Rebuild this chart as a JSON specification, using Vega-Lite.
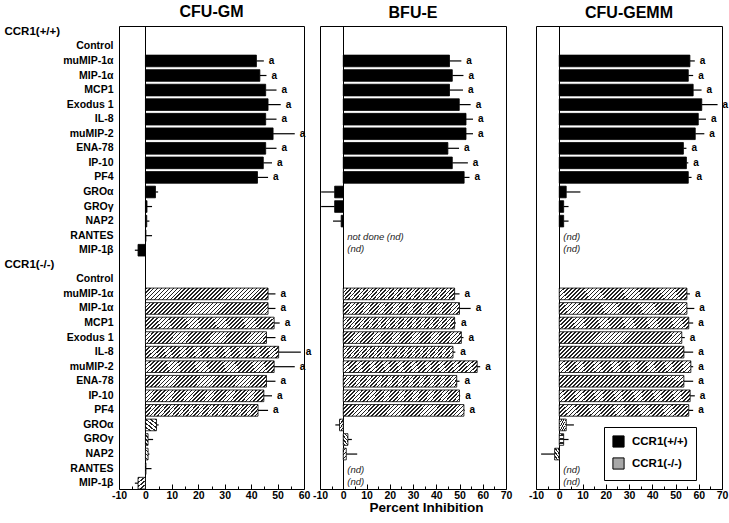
{
  "$schema": "https://vega.github.io/schema/vega-lite/v6.json",
  "padding": {"left": 3, "top": 3, "right": 5, "bottom": 0},
  "bounds": "flush",
  "spacing": 16,
  "config": {
    "font": "Liberation Sans",
    "view": {"stroke": "black", "strokeWidth": 1},
    "title": {"font": "Liberation Sans", "fontSize": 16, "fontWeight": "bold", "color": "black", "offset": 5, "anchor": "middle"},
    "axisX": {"domain": false, "tickColor": "black", "tickWidth": 1, "labelFont": "Liberation Sans", "labelFontWeight": "bold", "labelFontSize": 10.5, "labelColor": "black", "labelFlush": false, "labelOverlap": false, "grid": false, "gridColor": "black", "gridWidth": 1}
  },
  "datasets": {
    "bars": [
      {"assay": "CFU-GM", "geno": "CCR1(+/+)", "row": "CCR1(+/+)|muMIP-1α", "value": 42.0, "errEnd": 44.8, "sig": "a"},
      {"assay": "CFU-GM", "geno": "CCR1(+/+)", "row": "CCR1(+/+)|MIP-1α", "value": 43.3, "errEnd": 45.8, "sig": "a"},
      {"assay": "CFU-GM", "geno": "CCR1(+/+)", "row": "CCR1(+/+)|MCP1", "value": 45.5, "errEnd": 49.6, "sig": "a"},
      {"assay": "CFU-GM", "geno": "CCR1(+/+)", "row": "CCR1(+/+)|Exodus 1", "value": 46.4, "errEnd": 51.2, "sig": "a"},
      {"assay": "CFU-GM", "geno": "CCR1(+/+)", "row": "CCR1(+/+)|IL-8", "value": 45.5, "errEnd": 49.6, "sig": "a"},
      {"assay": "CFU-GM", "geno": "CCR1(+/+)", "row": "CCR1(+/+)|muMIP-2", "value": 48.3, "errEnd": 56.5, "sig": "a"},
      {"assay": "CFU-GM", "geno": "CCR1(+/+)", "row": "CCR1(+/+)|ENA-78", "value": 45.5, "errEnd": 49.6, "sig": "a"},
      {"assay": "CFU-GM", "geno": "CCR1(+/+)", "row": "CCR1(+/+)|IP-10", "value": 44.6, "errEnd": 47.9, "sig": "a"},
      {"assay": "CFU-GM", "geno": "CCR1(+/+)", "row": "CCR1(+/+)|PF4", "value": 42.4, "errEnd": 46.4, "sig": "a"},
      {"assay": "CFU-GM", "geno": "CCR1(+/+)", "row": "CCR1(+/+)|GROα", "value": 3.8, "errEnd": 4.8, "sig": ""},
      {"assay": "CFU-GM", "geno": "CCR1(+/+)", "row": "CCR1(+/+)|GROγ", "value": 0.6, "errEnd": 2.5, "sig": ""},
      {"assay": "CFU-GM", "geno": "CCR1(+/+)", "row": "CCR1(+/+)|NAP2", "value": 0.5, "errEnd": 1.5, "sig": ""},
      {"assay": "CFU-GM", "geno": "CCR1(+/+)", "row": "CCR1(+/+)|RANTES", "value": 0.2, "errEnd": 2.5, "sig": ""},
      {"assay": "CFU-GM", "geno": "CCR1(+/+)", "row": "CCR1(+/+)|MIP-1β", "value": -2.8, "errEnd": -4.0, "sig": ""},
      {"assay": "CFU-GM", "geno": "CCR1(-/-)", "row": "CCR1(-/-)|muMIP-1α", "value": 46.4, "errEnd": 49.2, "sig": "a"},
      {"assay": "CFU-GM", "geno": "CCR1(-/-)", "row": "CCR1(-/-)|MIP-1α", "value": 46.4, "errEnd": 49.2, "sig": "a"},
      {"assay": "CFU-GM", "geno": "CCR1(-/-)", "row": "CCR1(-/-)|MCP1", "value": 48.7, "errEnd": 50.8, "sig": "a"},
      {"assay": "CFU-GM", "geno": "CCR1(-/-)", "row": "CCR1(-/-)|Exodus 1", "value": 45.8, "errEnd": 49.2, "sig": "a"},
      {"assay": "CFU-GM", "geno": "CCR1(-/-)", "row": "CCR1(-/-)|IL-8", "value": 50.4, "errEnd": 58.8, "sig": "a"},
      {"assay": "CFU-GM", "geno": "CCR1(-/-)", "row": "CCR1(-/-)|muMIP-2", "value": 48.7, "errEnd": 56.5, "sig": "a"},
      {"assay": "CFU-GM", "geno": "CCR1(-/-)", "row": "CCR1(-/-)|ENA-78", "value": 45.8, "errEnd": 49.2, "sig": "a"},
      {"assay": "CFU-GM", "geno": "CCR1(-/-)", "row": "CCR1(-/-)|IP-10", "value": 44.8, "errEnd": 47.9, "sig": "a"},
      {"assay": "CFU-GM", "geno": "CCR1(-/-)", "row": "CCR1(-/-)|PF4", "value": 42.6, "errEnd": 46.4, "sig": "a"},
      {"assay": "CFU-GM", "geno": "CCR1(-/-)", "row": "CCR1(-/-)|GROα", "value": 4.2, "errEnd": 5.0, "sig": ""},
      {"assay": "CFU-GM", "geno": "CCR1(-/-)", "row": "CCR1(-/-)|GROγ", "value": 1.0, "errEnd": 2.9, "sig": ""},
      {"assay": "CFU-GM", "geno": "CCR1(-/-)", "row": "CCR1(-/-)|NAP2", "value": 1.0, "errEnd": 1.5, "sig": ""},
      {"assay": "CFU-GM", "geno": "CCR1(-/-)", "row": "CCR1(-/-)|RANTES", "value": 0.2, "errEnd": 2.3, "sig": ""},
      {"assay": "CFU-GM", "geno": "CCR1(-/-)", "row": "CCR1(-/-)|MIP-1β", "value": -2.8, "errEnd": -4.0, "sig": ""},
      {"assay": "BFU-E", "geno": "CCR1(+/+)", "row": "CCR1(+/+)|muMIP-1α", "value": 45.7, "errEnd": 50.8, "sig": "a"},
      {"assay": "BFU-E", "geno": "CCR1(+/+)", "row": "CCR1(+/+)|MIP-1α", "value": 46.9, "errEnd": 51.7, "sig": "a"},
      {"assay": "BFU-E", "geno": "CCR1(+/+)", "row": "CCR1(+/+)|MCP1", "value": 45.7, "errEnd": 51.5, "sig": "a"},
      {"assay": "BFU-E", "geno": "CCR1(+/+)", "row": "CCR1(+/+)|Exodus 1", "value": 49.9, "errEnd": 54.8, "sig": "a"},
      {"assay": "BFU-E", "geno": "CCR1(+/+)", "row": "CCR1(+/+)|IL-8", "value": 52.8, "errEnd": 55.8, "sig": "a"},
      {"assay": "BFU-E", "geno": "CCR1(+/+)", "row": "CCR1(+/+)|muMIP-2", "value": 52.8, "errEnd": 55.8, "sig": "a"},
      {"assay": "BFU-E", "geno": "CCR1(+/+)", "row": "CCR1(+/+)|ENA-78", "value": 45.0, "errEnd": 49.8, "sig": "a"},
      {"assay": "BFU-E", "geno": "CCR1(+/+)", "row": "CCR1(+/+)|IP-10", "value": 46.9, "errEnd": 53.6, "sig": "a"},
      {"assay": "BFU-E", "geno": "CCR1(+/+)", "row": "CCR1(+/+)|PF4", "value": 52.0, "errEnd": 54.3, "sig": "a"},
      {"assay": "BFU-E", "geno": "CCR1(+/+)", "row": "CCR1(+/+)|GROα", "value": -3.7, "errEnd": -9.5, "sig": ""},
      {"assay": "BFU-E", "geno": "CCR1(+/+)", "row": "CCR1(+/+)|GROγ", "value": -3.7, "errEnd": -9.5, "sig": ""},
      {"assay": "BFU-E", "geno": "CCR1(+/+)", "row": "CCR1(+/+)|NAP2", "value": -0.9, "errEnd": -4.4, "sig": ""},
      {"assay": "BFU-E", "geno": "CCR1(-/-)", "row": "CCR1(-/-)|muMIP-1α", "value": 47.9, "errEnd": 50.0, "sig": "a"},
      {"assay": "BFU-E", "geno": "CCR1(-/-)", "row": "CCR1(-/-)|MIP-1α", "value": 50.0, "errEnd": 54.8, "sig": "a"},
      {"assay": "BFU-E", "geno": "CCR1(-/-)", "row": "CCR1(-/-)|MCP1", "value": 47.9, "errEnd": 48.5, "sig": "a"},
      {"assay": "BFU-E", "geno": "CCR1(-/-)", "row": "CCR1(-/-)|Exodus 1", "value": 50.8, "errEnd": 51.7, "sig": "a"},
      {"assay": "BFU-E", "geno": "CCR1(-/-)", "row": "CCR1(-/-)|IL-8", "value": 47.2, "errEnd": 48.2, "sig": "a"},
      {"assay": "BFU-E", "geno": "CCR1(-/-)", "row": "CCR1(-/-)|muMIP-2", "value": 57.6, "errEnd": 58.9, "sig": "a"},
      {"assay": "BFU-E", "geno": "CCR1(-/-)", "row": "CCR1(-/-)|ENA-78", "value": 48.8, "errEnd": 50.0, "sig": "a"},
      {"assay": "BFU-E", "geno": "CCR1(-/-)", "row": "CCR1(-/-)|IP-10", "value": 50.0, "errEnd": 50.3, "sig": "a"},
      {"assay": "BFU-E", "geno": "CCR1(-/-)", "row": "CCR1(-/-)|PF4", "value": 51.9, "errEnd": 52.2, "sig": "a"},
      {"assay": "BFU-E", "geno": "CCR1(-/-)", "row": "CCR1(-/-)|GROα", "value": -1.6, "errEnd": -3.4, "sig": ""},
      {"assay": "BFU-E", "geno": "CCR1(-/-)", "row": "CCR1(-/-)|GROγ", "value": 2.0, "errEnd": 3.7, "sig": ""},
      {"assay": "BFU-E", "geno": "CCR1(-/-)", "row": "CCR1(-/-)|NAP2", "value": 1.3, "errEnd": 6.0, "sig": ""},
      {"assay": "CFU-GEMM", "geno": "CCR1(+/+)", "row": "CCR1(+/+)|muMIP-1α", "value": 56.2, "errEnd": 58.3, "sig": "a"},
      {"assay": "CFU-GEMM", "geno": "CCR1(+/+)", "row": "CCR1(+/+)|MIP-1α", "value": 55.5, "errEnd": 57.6, "sig": "a"},
      {"assay": "CFU-GEMM", "geno": "CCR1(+/+)", "row": "CCR1(+/+)|MCP1", "value": 57.6, "errEnd": 61.2, "sig": "a"},
      {"assay": "CFU-GEMM", "geno": "CCR1(+/+)", "row": "CCR1(+/+)|Exodus 1", "value": 61.3, "errEnd": 68.1, "sig": "a"},
      {"assay": "CFU-GEMM", "geno": "CCR1(+/+)", "row": "CCR1(+/+)|IL-8", "value": 59.8, "errEnd": 63.1, "sig": "a"},
      {"assay": "CFU-GEMM", "geno": "CCR1(+/+)", "row": "CCR1(+/+)|muMIP-2", "value": 58.5, "errEnd": 62.4, "sig": "a"},
      {"assay": "CFU-GEMM", "geno": "CCR1(+/+)", "row": "CCR1(+/+)|ENA-78", "value": 53.4, "errEnd": 54.7, "sig": "a"},
      {"assay": "CFU-GEMM", "geno": "CCR1(+/+)", "row": "CCR1(+/+)|IP-10", "value": 54.7, "errEnd": 55.5, "sig": "a"},
      {"assay": "CFU-GEMM", "geno": "CCR1(+/+)", "row": "CCR1(+/+)|PF4", "value": 55.5, "errEnd": 56.9, "sig": "a"},
      {"assay": "CFU-GEMM", "geno": "CCR1(+/+)", "row": "CCR1(+/+)|GROα", "value": 3.0, "errEnd": 9.1, "sig": ""},
      {"assay": "CFU-GEMM", "geno": "CCR1(+/+)", "row": "CCR1(+/+)|GROγ", "value": 1.9, "errEnd": 4.0, "sig": ""},
      {"assay": "CFU-GEMM", "geno": "CCR1(+/+)", "row": "CCR1(+/+)|NAP2", "value": 1.9, "errEnd": 4.0, "sig": ""},
      {"assay": "CFU-GEMM", "geno": "CCR1(-/-)", "row": "CCR1(-/-)|muMIP-1α", "value": 54.9, "errEnd": 56.2, "sig": "a"},
      {"assay": "CFU-GEMM", "geno": "CCR1(-/-)", "row": "CCR1(-/-)|MIP-1α", "value": 54.9, "errEnd": 58.1, "sig": "a"},
      {"assay": "CFU-GEMM", "geno": "CCR1(-/-)", "row": "CCR1(-/-)|MCP1", "value": 55.7, "errEnd": 57.6, "sig": "a"},
      {"assay": "CFU-GEMM", "geno": "CCR1(-/-)", "row": "CCR1(-/-)|Exodus 1", "value": 52.7, "errEnd": 54.0, "sig": "a"},
      {"assay": "CFU-GEMM", "geno": "CCR1(-/-)", "row": "CCR1(-/-)|IL-8", "value": 53.6, "errEnd": 57.6, "sig": "a"},
      {"assay": "CFU-GEMM", "geno": "CCR1(-/-)", "row": "CCR1(-/-)|muMIP-2", "value": 56.6, "errEnd": 57.6, "sig": "a"},
      {"assay": "CFU-GEMM", "geno": "CCR1(-/-)", "row": "CCR1(-/-)|ENA-78", "value": 53.6, "errEnd": 57.6, "sig": "a"},
      {"assay": "CFU-GEMM", "geno": "CCR1(-/-)", "row": "CCR1(-/-)|IP-10", "value": 56.3, "errEnd": 58.3, "sig": "a"},
      {"assay": "CFU-GEMM", "geno": "CCR1(-/-)", "row": "CCR1(-/-)|PF4", "value": 55.7, "errEnd": 57.6, "sig": "a"},
      {"assay": "CFU-GEMM", "geno": "CCR1(-/-)", "row": "CCR1(-/-)|GROα", "value": 3.0, "errEnd": 6.3, "sig": ""},
      {"assay": "CFU-GEMM", "geno": "CCR1(-/-)", "row": "CCR1(-/-)|GROγ", "value": 1.9, "errEnd": 4.0, "sig": ""},
      {"assay": "CFU-GEMM", "geno": "CCR1(-/-)", "row": "CCR1(-/-)|NAP2", "value": -2.0, "errEnd": -7.8, "sig": ""}
    ],
    "notes": [
      {"assay": "BFU-E", "row": "CCR1(+/+)|RANTES", "note": "not done (nd)"},
      {"assay": "BFU-E", "row": "CCR1(+/+)|MIP-1β", "note": "(nd)"},
      {"assay": "BFU-E", "row": "CCR1(-/-)|RANTES", "note": "(nd)"},
      {"assay": "BFU-E", "row": "CCR1(-/-)|MIP-1β", "note": "(nd)"},
      {"assay": "CFU-GEMM", "row": "CCR1(+/+)|RANTES", "note": "(nd)"},
      {"assay": "CFU-GEMM", "row": "CCR1(+/+)|MIP-1β", "note": "(nd)"},
      {"assay": "CFU-GEMM", "row": "CCR1(-/-)|RANTES", "note": "(nd)"},
      {"assay": "CFU-GEMM", "row": "CCR1(-/-)|MIP-1β", "note": "(nd)"}
    ]
  },
  "resolve": {"scale": {"x": "independent", "y": "independent"}},
  "hconcat": [
    {
      "title": "CFU-GM",
      "width": 185,
      "height": 463,
      "resolve": {"axis": {"x": "independent"}},
      "encoding": {
        "y": {
          "field": "row", "type": "nominal",
          "scale": {"domain": ["CCR1(+/+)", "CCR1(+/+)|Control", "CCR1(+/+)|muMIP-1α", "CCR1(+/+)|MIP-1α", "CCR1(+/+)|MCP1", "CCR1(+/+)|Exodus 1", "CCR1(+/+)|IL-8", "CCR1(+/+)|muMIP-2", "CCR1(+/+)|ENA-78", "CCR1(+/+)|IP-10", "CCR1(+/+)|PF4", "CCR1(+/+)|GROα", "CCR1(+/+)|GROγ", "CCR1(+/+)|NAP2", "CCR1(+/+)|RANTES", "CCR1(+/+)|MIP-1β", "CCR1(-/-)", "CCR1(-/-)|Control", "CCR1(-/-)|muMIP-1α", "CCR1(-/-)|MIP-1α", "CCR1(-/-)|MCP1", "CCR1(-/-)|Exodus 1", "CCR1(-/-)|IL-8", "CCR1(-/-)|muMIP-2", "CCR1(-/-)|ENA-78", "CCR1(-/-)|IP-10", "CCR1(-/-)|PF4", "CCR1(-/-)|GROα", "CCR1(-/-)|GROγ", "CCR1(-/-)|NAP2", "CCR1(-/-)|RANTES", "CCR1(-/-)|MIP-1β"], "paddingInner": 0.2, "paddingOuter": 0},
          "axis": {
            "title": null, "domain": false, "ticks": false, "grid": false,
            "labelExpr": "slice(datum.value, indexof(datum.value, '|') + 1)",
            "labelFont": "Liberation Sans", "labelFontWeight": "bold", "labelColor": "black",
            "labelFontSize": {"condition": {"test": "indexof(datum.value, '|') < 0", "value": 11.5}, "value": 10.5},
            "labelAlign": {"condition": {"test": "indexof(datum.value, '|') < 0", "value": "left"}, "value": "right"},
            "labelPadding": {"condition": {"test": "indexof(datum.value, '|') < 0", "value": 115}, "value": 6},
            "labelLimit": 0, "labelOverlap": false
          }
        }
      },
      "layer": [
        {
          "data": {"name": "bars"},
          "transform": [{"filter": "datum.assay == 'CFU-GM' && datum.geno == 'CCR1(+/+)'"}],
          "mark": {"type": "bar", "color": "black", "stroke": "black", "strokeWidth": 0.8},
          "encoding": {
            "x": {"field": "value", "type": "quantitative", "scale": {"domain": [-10, 60], "nice": false, "zero": false},
              "axis": {"orient": "bottom", "title": null, "values": [-5, 5, 15, 25, 35, 45, 55], "labels": false, "tickSize": -3, "grid": false}},
            "x2": {"datum": 0}
          }
        },
        {
          "data": {"name": "bars"},
          "transform": [{"filter": "datum.assay == 'CFU-GM' && datum.geno == 'CCR1(-/-)'"}],
          "mark": {"type": "bar", "stroke": "black", "strokeWidth": 0.8, "fill": {"gradient":"linear","x1":0,"y1":0,"x2":1.085,"y2":0.103,"stops":[{"offset":0,"color":"#fff"},{"offset":0,"color":"#222"},{"offset":0.0118,"color":"#222"},{"offset":0.0118,"color":"#fff"},{"offset":0.0294,"color":"#fff"},{"offset":0.0294,"color":"#222"},{"offset":0.0412,"color":"#222"},{"offset":0.0412,"color":"#fff"},{"offset":0.0588,"color":"#fff"},{"offset":0.0588,"color":"#222"},{"offset":0.0706,"color":"#222"},{"offset":0.0706,"color":"#fff"},{"offset":0.0882,"color":"#fff"},{"offset":0.0882,"color":"#222"},{"offset":0.1,"color":"#222"},{"offset":0.1,"color":"#fff"},{"offset":0.1176,"color":"#fff"},{"offset":0.1176,"color":"#222"},{"offset":0.1294,"color":"#222"},{"offset":0.1294,"color":"#fff"},{"offset":0.1471,"color":"#fff"},{"offset":0.1471,"color":"#222"},{"offset":0.1588,"color":"#222"},{"offset":0.1588,"color":"#fff"},{"offset":0.1765,"color":"#fff"},{"offset":0.1765,"color":"#222"},{"offset":0.1882,"color":"#222"},{"offset":0.1882,"color":"#fff"},{"offset":0.2059,"color":"#fff"},{"offset":0.2059,"color":"#222"},{"offset":0.2176,"color":"#222"},{"offset":0.2176,"color":"#fff"},{"offset":0.2353,"color":"#fff"},{"offset":0.2353,"color":"#222"},{"offset":0.2471,"color":"#222"},{"offset":0.2471,"color":"#fff"},{"offset":0.2647,"color":"#fff"},{"offset":0.2647,"color":"#222"},{"offset":0.2765,"color":"#222"},{"offset":0.2765,"color":"#fff"},{"offset":0.2941,"color":"#fff"},{"offset":0.2941,"color":"#222"},{"offset":0.3059,"color":"#222"},{"offset":0.3059,"color":"#fff"},{"offset":0.3235,"color":"#fff"},{"offset":0.3235,"color":"#222"},{"offset":0.3353,"color":"#222"},{"offset":0.3353,"color":"#fff"},{"offset":0.3529,"color":"#fff"},{"offset":0.3529,"color":"#222"},{"offset":0.3647,"color":"#222"},{"offset":0.3647,"color":"#fff"},{"offset":0.3824,"color":"#fff"},{"offset":0.3824,"color":"#222"},{"offset":0.3941,"color":"#222"},{"offset":0.3941,"color":"#fff"},{"offset":0.4118,"color":"#fff"},{"offset":0.4118,"color":"#222"},{"offset":0.4235,"color":"#222"},{"offset":0.4235,"color":"#fff"},{"offset":0.4412,"color":"#fff"},{"offset":0.4412,"color":"#222"},{"offset":0.4529,"color":"#222"},{"offset":0.4529,"color":"#fff"},{"offset":0.4706,"color":"#fff"},{"offset":0.4706,"color":"#222"},{"offset":0.4824,"color":"#222"},{"offset":0.4824,"color":"#fff"},{"offset":0.5,"color":"#fff"},{"offset":0.5,"color":"#222"},{"offset":0.5118,"color":"#222"},{"offset":0.5118,"color":"#fff"},{"offset":0.5294,"color":"#fff"},{"offset":0.5294,"color":"#222"},{"offset":0.5412,"color":"#222"},{"offset":0.5412,"color":"#fff"},{"offset":0.5588,"color":"#fff"},{"offset":0.5588,"color":"#222"},{"offset":0.5706,"color":"#222"},{"offset":0.5706,"color":"#fff"},{"offset":0.5882,"color":"#fff"},{"offset":0.5882,"color":"#222"},{"offset":0.6,"color":"#222"},{"offset":0.6,"color":"#fff"},{"offset":0.6176,"color":"#fff"},{"offset":0.6176,"color":"#222"},{"offset":0.6294,"color":"#222"},{"offset":0.6294,"color":"#fff"},{"offset":0.6471,"color":"#fff"},{"offset":0.6471,"color":"#222"},{"offset":0.6588,"color":"#222"},{"offset":0.6588,"color":"#fff"},{"offset":0.6765,"color":"#fff"},{"offset":0.6765,"color":"#222"},{"offset":0.6882,"color":"#222"},{"offset":0.6882,"color":"#fff"},{"offset":0.7059,"color":"#fff"},{"offset":0.7059,"color":"#222"},{"offset":0.7176,"color":"#222"},{"offset":0.7176,"color":"#fff"},{"offset":0.7353,"color":"#fff"},{"offset":0.7353,"color":"#222"},{"offset":0.7471,"color":"#222"},{"offset":0.7471,"color":"#fff"},{"offset":0.7647,"color":"#fff"},{"offset":0.7647,"color":"#222"},{"offset":0.7765,"color":"#222"},{"offset":0.7765,"color":"#fff"},{"offset":0.7941,"color":"#fff"},{"offset":0.7941,"color":"#222"},{"offset":0.8059,"color":"#222"},{"offset":0.8059,"color":"#fff"},{"offset":0.8235,"color":"#fff"},{"offset":0.8235,"color":"#222"},{"offset":0.8353,"color":"#222"},{"offset":0.8353,"color":"#fff"},{"offset":0.8529,"color":"#fff"},{"offset":0.8529,"color":"#222"},{"offset":0.8647,"color":"#222"},{"offset":0.8647,"color":"#fff"},{"offset":0.8824,"color":"#fff"},{"offset":0.8824,"color":"#222"},{"offset":0.8941,"color":"#222"},{"offset":0.8941,"color":"#fff"},{"offset":0.9118,"color":"#fff"},{"offset":0.9118,"color":"#222"},{"offset":0.9235,"color":"#222"},{"offset":0.9235,"color":"#fff"},{"offset":0.9412,"color":"#fff"},{"offset":0.9412,"color":"#222"},{"offset":0.9529,"color":"#222"},{"offset":0.9529,"color":"#fff"},{"offset":0.9706,"color":"#fff"},{"offset":0.9706,"color":"#222"},{"offset":0.9824,"color":"#222"},{"offset":0.9824,"color":"#fff"},{"offset":1,"color":"#fff"}]}},
          "encoding": {
            "x": {"field": "value", "type": "quantitative", "scale": {"domain": [-10, 60], "nice": false, "zero": false},
              "axis": {"orient": "bottom", "title": null, "values": [-10, 0, 10, 20, 30, 40, 50, 60], "labelExpr": "'' + datum.value", "tickSize": -5, "labelPadding": 6, "labelOverlap": false,
                "grid": true, "gridOpacity": {"condition": {"test": "datum.value == 0", "value": 1}, "value": 0}}},
            "x2": {"datum": 0}
          }
        },
        {
          "data": {"name": "bars"},
          "transform": [{"filter": "datum.assay == 'CFU-GM'"}],
          "mark": {"type": "rule", "color": "black", "strokeWidth": 1.2},
          "encoding": {
            "x": {"field": "value", "type": "quantitative", "scale": {"domain": [-10, 60], "nice": false, "zero": false}, "axis": null},
            "x2": {"field": "errEnd"}
          }
        },
        {
          "data": {"name": "bars"},
          "transform": [{"filter": "datum.assay == 'CFU-GM' && datum.sig == 'a'"}],
          "mark": {"type": "text", "align": "left", "dx": 5, "fontSize": 10, "fontWeight": "bold", "font": "Liberation Sans", "color": "black"},
          "encoding": {
            "x": {"field": "errEnd", "type": "quantitative", "scale": {"domain": [-10, 60], "nice": false, "zero": false}, "axis": null},
            "text": {"field": "sig"}
          }
        }
      ]
    },
    {
      "spacing": 30,
      "bounds": "flush",
      "resolve": {"scale": {"x": "independent", "y": "independent"}},
      "hconcat": [
        {
          "title": "BFU-E",
          "width": 186,
          "height": 463,
          "resolve": {"axis": {"x": "independent"}},
          "encoding": {
            "y": {
              "field": "row", "type": "nominal",
              "scale": {"domain": ["CCR1(+/+)", "CCR1(+/+)|Control", "CCR1(+/+)|muMIP-1α", "CCR1(+/+)|MIP-1α", "CCR1(+/+)|MCP1", "CCR1(+/+)|Exodus 1", "CCR1(+/+)|IL-8", "CCR1(+/+)|muMIP-2", "CCR1(+/+)|ENA-78", "CCR1(+/+)|IP-10", "CCR1(+/+)|PF4", "CCR1(+/+)|GROα", "CCR1(+/+)|GROγ", "CCR1(+/+)|NAP2", "CCR1(+/+)|RANTES", "CCR1(+/+)|MIP-1β", "CCR1(-/-)", "CCR1(-/-)|Control", "CCR1(-/-)|muMIP-1α", "CCR1(-/-)|MIP-1α", "CCR1(-/-)|MCP1", "CCR1(-/-)|Exodus 1", "CCR1(-/-)|IL-8", "CCR1(-/-)|muMIP-2", "CCR1(-/-)|ENA-78", "CCR1(-/-)|IP-10", "CCR1(-/-)|PF4", "CCR1(-/-)|GROα", "CCR1(-/-)|GROγ", "CCR1(-/-)|NAP2", "CCR1(-/-)|RANTES", "CCR1(-/-)|MIP-1β"], "paddingInner": 0.2, "paddingOuter": 0},
              "axis": null
            }
          },
          "layer": [
            {
              "data": {"name": "bars"},
              "transform": [{"filter": "datum.assay == 'BFU-E' && datum.geno == 'CCR1(+/+)'"}],
              "mark": {"type": "bar", "color": "black", "stroke": "black", "strokeWidth": 0.8},
              "encoding": {
                "x": {"field": "value", "type": "quantitative", "scale": {"domain": [-10, 70], "nice": false, "zero": false},
                  "axis": {"orient": "bottom", "title": null, "values": [-5, 5, 15, 25, 35, 45, 55, 65], "labels": false, "tickSize": -3, "grid": false}},
                "x2": {"datum": 0}
              }
            },
            {
              "data": {"name": "bars"},
              "transform": [{"filter": "datum.assay == 'BFU-E' && datum.geno == 'CCR1(-/-)'"}],
              "mark": {"type": "bar", "stroke": "black", "strokeWidth": 0.8, "fill": {"gradient":"linear","x1":0,"y1":0,"x2":1.085,"y2":0.103,"stops":[{"offset":0,"color":"#fff"},{"offset":0,"color":"#222"},{"offset":0.0118,"color":"#222"},{"offset":0.0118,"color":"#fff"},{"offset":0.0294,"color":"#fff"},{"offset":0.0294,"color":"#222"},{"offset":0.0412,"color":"#222"},{"offset":0.0412,"color":"#fff"},{"offset":0.0588,"color":"#fff"},{"offset":0.0588,"color":"#222"},{"offset":0.0706,"color":"#222"},{"offset":0.0706,"color":"#fff"},{"offset":0.0882,"color":"#fff"},{"offset":0.0882,"color":"#222"},{"offset":0.1,"color":"#222"},{"offset":0.1,"color":"#fff"},{"offset":0.1176,"color":"#fff"},{"offset":0.1176,"color":"#222"},{"offset":0.1294,"color":"#222"},{"offset":0.1294,"color":"#fff"},{"offset":0.1471,"color":"#fff"},{"offset":0.1471,"color":"#222"},{"offset":0.1588,"color":"#222"},{"offset":0.1588,"color":"#fff"},{"offset":0.1765,"color":"#fff"},{"offset":0.1765,"color":"#222"},{"offset":0.1882,"color":"#222"},{"offset":0.1882,"color":"#fff"},{"offset":0.2059,"color":"#fff"},{"offset":0.2059,"color":"#222"},{"offset":0.2176,"color":"#222"},{"offset":0.2176,"color":"#fff"},{"offset":0.2353,"color":"#fff"},{"offset":0.2353,"color":"#222"},{"offset":0.2471,"color":"#222"},{"offset":0.2471,"color":"#fff"},{"offset":0.2647,"color":"#fff"},{"offset":0.2647,"color":"#222"},{"offset":0.2765,"color":"#222"},{"offset":0.2765,"color":"#fff"},{"offset":0.2941,"color":"#fff"},{"offset":0.2941,"color":"#222"},{"offset":0.3059,"color":"#222"},{"offset":0.3059,"color":"#fff"},{"offset":0.3235,"color":"#fff"},{"offset":0.3235,"color":"#222"},{"offset":0.3353,"color":"#222"},{"offset":0.3353,"color":"#fff"},{"offset":0.3529,"color":"#fff"},{"offset":0.3529,"color":"#222"},{"offset":0.3647,"color":"#222"},{"offset":0.3647,"color":"#fff"},{"offset":0.3824,"color":"#fff"},{"offset":0.3824,"color":"#222"},{"offset":0.3941,"color":"#222"},{"offset":0.3941,"color":"#fff"},{"offset":0.4118,"color":"#fff"},{"offset":0.4118,"color":"#222"},{"offset":0.4235,"color":"#222"},{"offset":0.4235,"color":"#fff"},{"offset":0.4412,"color":"#fff"},{"offset":0.4412,"color":"#222"},{"offset":0.4529,"color":"#222"},{"offset":0.4529,"color":"#fff"},{"offset":0.4706,"color":"#fff"},{"offset":0.4706,"color":"#222"},{"offset":0.4824,"color":"#222"},{"offset":0.4824,"color":"#fff"},{"offset":0.5,"color":"#fff"},{"offset":0.5,"color":"#222"},{"offset":0.5118,"color":"#222"},{"offset":0.5118,"color":"#fff"},{"offset":0.5294,"color":"#fff"},{"offset":0.5294,"color":"#222"},{"offset":0.5412,"color":"#222"},{"offset":0.5412,"color":"#fff"},{"offset":0.5588,"color":"#fff"},{"offset":0.5588,"color":"#222"},{"offset":0.5706,"color":"#222"},{"offset":0.5706,"color":"#fff"},{"offset":0.5882,"color":"#fff"},{"offset":0.5882,"color":"#222"},{"offset":0.6,"color":"#222"},{"offset":0.6,"color":"#fff"},{"offset":0.6176,"color":"#fff"},{"offset":0.6176,"color":"#222"},{"offset":0.6294,"color":"#222"},{"offset":0.6294,"color":"#fff"},{"offset":0.6471,"color":"#fff"},{"offset":0.6471,"color":"#222"},{"offset":0.6588,"color":"#222"},{"offset":0.6588,"color":"#fff"},{"offset":0.6765,"color":"#fff"},{"offset":0.6765,"color":"#222"},{"offset":0.6882,"color":"#222"},{"offset":0.6882,"color":"#fff"},{"offset":0.7059,"color":"#fff"},{"offset":0.7059,"color":"#222"},{"offset":0.7176,"color":"#222"},{"offset":0.7176,"color":"#fff"},{"offset":0.7353,"color":"#fff"},{"offset":0.7353,"color":"#222"},{"offset":0.7471,"color":"#222"},{"offset":0.7471,"color":"#fff"},{"offset":0.7647,"color":"#fff"},{"offset":0.7647,"color":"#222"},{"offset":0.7765,"color":"#222"},{"offset":0.7765,"color":"#fff"},{"offset":0.7941,"color":"#fff"},{"offset":0.7941,"color":"#222"},{"offset":0.8059,"color":"#222"},{"offset":0.8059,"color":"#fff"},{"offset":0.8235,"color":"#fff"},{"offset":0.8235,"color":"#222"},{"offset":0.8353,"color":"#222"},{"offset":0.8353,"color":"#fff"},{"offset":0.8529,"color":"#fff"},{"offset":0.8529,"color":"#222"},{"offset":0.8647,"color":"#222"},{"offset":0.8647,"color":"#fff"},{"offset":0.8824,"color":"#fff"},{"offset":0.8824,"color":"#222"},{"offset":0.8941,"color":"#222"},{"offset":0.8941,"color":"#fff"},{"offset":0.9118,"color":"#fff"},{"offset":0.9118,"color":"#222"},{"offset":0.9235,"color":"#222"},{"offset":0.9235,"color":"#fff"},{"offset":0.9412,"color":"#fff"},{"offset":0.9412,"color":"#222"},{"offset":0.9529,"color":"#222"},{"offset":0.9529,"color":"#fff"},{"offset":0.9706,"color":"#fff"},{"offset":0.9706,"color":"#222"},{"offset":0.9824,"color":"#222"},{"offset":0.9824,"color":"#fff"},{"offset":1,"color":"#fff"}]}},
              "encoding": {
                "x": {"field": "value", "type": "quantitative", "scale": {"domain": [-10, 70], "nice": false, "zero": false},
                  "axis": {"orient": "bottom", "title": "Percent Inhibition", "titleFont": "Liberation Sans", "titleFontSize": 13.5, "titleFontWeight": "bold", "titleColor": "black", "titlePadding": 0, "titleX": 106,
                    "values": [-10, 0, 10, 20, 30, 40, 50, 60, 70], "labelExpr": "'' + datum.value", "tickSize": -5, "labelPadding": 6, "labelOverlap": false,
                    "grid": true, "gridOpacity": {"condition": {"test": "datum.value == 0", "value": 1}, "value": 0}}},
                "x2": {"datum": 0}
              }
            },
            {
              "data": {"name": "bars"},
              "transform": [{"filter": "datum.assay == 'BFU-E'"}],
              "mark": {"type": "rule", "color": "black", "strokeWidth": 1.2},
              "encoding": {
                "x": {"field": "value", "type": "quantitative", "scale": {"domain": [-10, 70], "nice": false, "zero": false}, "axis": null},
                "x2": {"field": "errEnd"}
              }
            },
            {
              "data": {"name": "bars"},
              "transform": [{"filter": "datum.assay == 'BFU-E' && datum.sig == 'a'"}],
              "mark": {"type": "text", "align": "left", "dx": 5, "fontSize": 10, "fontWeight": "bold", "font": "Liberation Sans", "color": "black"},
              "encoding": {
                "x": {"field": "errEnd", "type": "quantitative", "scale": {"domain": [-10, 70], "nice": false, "zero": false}, "axis": null},
                "text": {"field": "sig"}
              }
            },
            {
              "data": {"name": "notes"},
              "transform": [{"filter": "datum.assay == 'BFU-E' && indexof(datum.row, 'RANTES') >= 0"}],
              "mark": {"type": "text", "align": "left", "dx": 4, "dy": 1, "fontSize": 9.5, "fontStyle": "italic", "font": "Liberation Sans", "color": "#222222"},
              "encoding": {
                "x": {"datum": 0, "type": "quantitative", "scale": {"domain": [-10, 70], "nice": false, "zero": false}, "axis": null},
                "text": {"field": "note"}
              }
            },
            {
              "data": {"name": "notes"},
              "transform": [{"filter": "datum.assay == 'BFU-E' && indexof(datum.row, 'MIP-1β') >= 0"}],
              "mark": {"type": "text", "align": "left", "dx": 4, "dy": -1, "fontSize": 9.5, "fontStyle": "italic", "font": "Liberation Sans", "color": "#222222"},
              "encoding": {
                "x": {"datum": 0, "type": "quantitative", "scale": {"domain": [-10, 70], "nice": false, "zero": false}, "axis": null},
                "text": {"field": "note"}
              }
            }
          ]
        },
        {
          "title": "CFU-GEMM",
          "width": 186,
          "height": 463,
          "resolve": {"axis": {"x": "independent"}},
          "encoding": {
            "y": {
              "field": "row", "type": "nominal",
              "scale": {"domain": ["CCR1(+/+)", "CCR1(+/+)|Control", "CCR1(+/+)|muMIP-1α", "CCR1(+/+)|MIP-1α", "CCR1(+/+)|MCP1", "CCR1(+/+)|Exodus 1", "CCR1(+/+)|IL-8", "CCR1(+/+)|muMIP-2", "CCR1(+/+)|ENA-78", "CCR1(+/+)|IP-10", "CCR1(+/+)|PF4", "CCR1(+/+)|GROα", "CCR1(+/+)|GROγ", "CCR1(+/+)|NAP2", "CCR1(+/+)|RANTES", "CCR1(+/+)|MIP-1β", "CCR1(-/-)", "CCR1(-/-)|Control", "CCR1(-/-)|muMIP-1α", "CCR1(-/-)|MIP-1α", "CCR1(-/-)|MCP1", "CCR1(-/-)|Exodus 1", "CCR1(-/-)|IL-8", "CCR1(-/-)|muMIP-2", "CCR1(-/-)|ENA-78", "CCR1(-/-)|IP-10", "CCR1(-/-)|PF4", "CCR1(-/-)|GROα", "CCR1(-/-)|GROγ", "CCR1(-/-)|NAP2", "CCR1(-/-)|RANTES", "CCR1(-/-)|MIP-1β"], "paddingInner": 0.2, "paddingOuter": 0},
              "axis": null
            }
          },
          "layer": [
            {
              "data": {"name": "bars"},
              "transform": [{"filter": "datum.assay == 'CFU-GEMM' && datum.geno == 'CCR1(+/+)'"}],
              "mark": {"type": "bar", "stroke": "black", "strokeWidth": 0.8},
              "encoding": {
                "x": {"field": "value", "type": "quantitative", "scale": {"domain": [-10, 70], "nice": false, "zero": false},
                  "axis": {"orient": "bottom", "title": null, "values": [-5, 5, 15, 25, 35, 45, 55, 65], "labels": false, "tickSize": -3, "grid": false}},
                "x2": {"datum": 0},
                "color": {
                  "field": "geno", "type": "nominal",
                  "scale": {"domain": ["CCR1(+/+)", "CCR1(-/-)"], "range": ["#000000", "#a8a8a8"]},
                  "legend": {"orient": "none", "legendX": 485, "legendY": 401, "title": null, "direction": "vertical",
                    "symbolType": "square", "symbolSize": 125, "symbolStrokeColor": "black", "symbolStrokeWidth": 1, "symbolOpacity": 1,
                    "labelFont": "Liberation Sans", "labelFontSize": 11.5, "labelFontWeight": "bold", "labelColor": "black", "labelOffset": 7,
                    "padding": 8, "strokeColor": "black", "fillColor": "white", "rowPadding": 5}
                }
              }
            },
            {
              "data": {"name": "bars"},
              "transform": [{"filter": "datum.assay == 'CFU-GEMM' && datum.geno == 'CCR1(-/-)'"}],
              "mark": {"type": "bar", "stroke": "black", "strokeWidth": 0.8, "fill": {"gradient":"linear","x1":0,"y1":0,"x2":1.085,"y2":0.103,"stops":[{"offset":0,"color":"#fff"},{"offset":0,"color":"#222"},{"offset":0.0118,"color":"#222"},{"offset":0.0118,"color":"#fff"},{"offset":0.0294,"color":"#fff"},{"offset":0.0294,"color":"#222"},{"offset":0.0412,"color":"#222"},{"offset":0.0412,"color":"#fff"},{"offset":0.0588,"color":"#fff"},{"offset":0.0588,"color":"#222"},{"offset":0.0706,"color":"#222"},{"offset":0.0706,"color":"#fff"},{"offset":0.0882,"color":"#fff"},{"offset":0.0882,"color":"#222"},{"offset":0.1,"color":"#222"},{"offset":0.1,"color":"#fff"},{"offset":0.1176,"color":"#fff"},{"offset":0.1176,"color":"#222"},{"offset":0.1294,"color":"#222"},{"offset":0.1294,"color":"#fff"},{"offset":0.1471,"color":"#fff"},{"offset":0.1471,"color":"#222"},{"offset":0.1588,"color":"#222"},{"offset":0.1588,"color":"#fff"},{"offset":0.1765,"color":"#fff"},{"offset":0.1765,"color":"#222"},{"offset":0.1882,"color":"#222"},{"offset":0.1882,"color":"#fff"},{"offset":0.2059,"color":"#fff"},{"offset":0.2059,"color":"#222"},{"offset":0.2176,"color":"#222"},{"offset":0.2176,"color":"#fff"},{"offset":0.2353,"color":"#fff"},{"offset":0.2353,"color":"#222"},{"offset":0.2471,"color":"#222"},{"offset":0.2471,"color":"#fff"},{"offset":0.2647,"color":"#fff"},{"offset":0.2647,"color":"#222"},{"offset":0.2765,"color":"#222"},{"offset":0.2765,"color":"#fff"},{"offset":0.2941,"color":"#fff"},{"offset":0.2941,"color":"#222"},{"offset":0.3059,"color":"#222"},{"offset":0.3059,"color":"#fff"},{"offset":0.3235,"color":"#fff"},{"offset":0.3235,"color":"#222"},{"offset":0.3353,"color":"#222"},{"offset":0.3353,"color":"#fff"},{"offset":0.3529,"color":"#fff"},{"offset":0.3529,"color":"#222"},{"offset":0.3647,"color":"#222"},{"offset":0.3647,"color":"#fff"},{"offset":0.3824,"color":"#fff"},{"offset":0.3824,"color":"#222"},{"offset":0.3941,"color":"#222"},{"offset":0.3941,"color":"#fff"},{"offset":0.4118,"color":"#fff"},{"offset":0.4118,"color":"#222"},{"offset":0.4235,"color":"#222"},{"offset":0.4235,"color":"#fff"},{"offset":0.4412,"color":"#fff"},{"offset":0.4412,"color":"#222"},{"offset":0.4529,"color":"#222"},{"offset":0.4529,"color":"#fff"},{"offset":0.4706,"color":"#fff"},{"offset":0.4706,"color":"#222"},{"offset":0.4824,"color":"#222"},{"offset":0.4824,"color":"#fff"},{"offset":0.5,"color":"#fff"},{"offset":0.5,"color":"#222"},{"offset":0.5118,"color":"#222"},{"offset":0.5118,"color":"#fff"},{"offset":0.5294,"color":"#fff"},{"offset":0.5294,"color":"#222"},{"offset":0.5412,"color":"#222"},{"offset":0.5412,"color":"#fff"},{"offset":0.5588,"color":"#fff"},{"offset":0.5588,"color":"#222"},{"offset":0.5706,"color":"#222"},{"offset":0.5706,"color":"#fff"},{"offset":0.5882,"color":"#fff"},{"offset":0.5882,"color":"#222"},{"offset":0.6,"color":"#222"},{"offset":0.6,"color":"#fff"},{"offset":0.6176,"color":"#fff"},{"offset":0.6176,"color":"#222"},{"offset":0.6294,"color":"#222"},{"offset":0.6294,"color":"#fff"},{"offset":0.6471,"color":"#fff"},{"offset":0.6471,"color":"#222"},{"offset":0.6588,"color":"#222"},{"offset":0.6588,"color":"#fff"},{"offset":0.6765,"color":"#fff"},{"offset":0.6765,"color":"#222"},{"offset":0.6882,"color":"#222"},{"offset":0.6882,"color":"#fff"},{"offset":0.7059,"color":"#fff"},{"offset":0.7059,"color":"#222"},{"offset":0.7176,"color":"#222"},{"offset":0.7176,"color":"#fff"},{"offset":0.7353,"color":"#fff"},{"offset":0.7353,"color":"#222"},{"offset":0.7471,"color":"#222"},{"offset":0.7471,"color":"#fff"},{"offset":0.7647,"color":"#fff"},{"offset":0.7647,"color":"#222"},{"offset":0.7765,"color":"#222"},{"offset":0.7765,"color":"#fff"},{"offset":0.7941,"color":"#fff"},{"offset":0.7941,"color":"#222"},{"offset":0.8059,"color":"#222"},{"offset":0.8059,"color":"#fff"},{"offset":0.8235,"color":"#fff"},{"offset":0.8235,"color":"#222"},{"offset":0.8353,"color":"#222"},{"offset":0.8353,"color":"#fff"},{"offset":0.8529,"color":"#fff"},{"offset":0.8529,"color":"#222"},{"offset":0.8647,"color":"#222"},{"offset":0.8647,"color":"#fff"},{"offset":0.8824,"color":"#fff"},{"offset":0.8824,"color":"#222"},{"offset":0.8941,"color":"#222"},{"offset":0.8941,"color":"#fff"},{"offset":0.9118,"color":"#fff"},{"offset":0.9118,"color":"#222"},{"offset":0.9235,"color":"#222"},{"offset":0.9235,"color":"#fff"},{"offset":0.9412,"color":"#fff"},{"offset":0.9412,"color":"#222"},{"offset":0.9529,"color":"#222"},{"offset":0.9529,"color":"#fff"},{"offset":0.9706,"color":"#fff"},{"offset":0.9706,"color":"#222"},{"offset":0.9824,"color":"#222"},{"offset":0.9824,"color":"#fff"},{"offset":1,"color":"#fff"}]}},
              "encoding": {
                "x": {"field": "value", "type": "quantitative", "scale": {"domain": [-10, 70], "nice": false, "zero": false},
                  "axis": {"orient": "bottom", "title": null, "values": [-10, 0, 10, 20, 30, 40, 50, 60, 70], "labelExpr": "'' + datum.value", "tickSize": -5, "labelPadding": 6, "labelOverlap": false,
                    "grid": true, "gridOpacity": {"condition": {"test": "datum.value == 0", "value": 1}, "value": 0}}},
                "x2": {"datum": 0}
              }
            },
            {
              "data": {"name": "bars"},
              "transform": [{"filter": "datum.assay == 'CFU-GEMM'"}],
              "mark": {"type": "rule", "color": "black", "strokeWidth": 1.2},
              "encoding": {
                "x": {"field": "value", "type": "quantitative", "scale": {"domain": [-10, 70], "nice": false, "zero": false}, "axis": null},
                "x2": {"field": "errEnd"}
              }
            },
            {
              "data": {"name": "bars"},
              "transform": [{"filter": "datum.assay == 'CFU-GEMM' && datum.sig == 'a'"}],
              "mark": {"type": "text", "align": "left", "dx": 5, "fontSize": 10, "fontWeight": "bold", "font": "Liberation Sans", "color": "black"},
              "encoding": {
                "x": {"field": "errEnd", "type": "quantitative", "scale": {"domain": [-10, 70], "nice": false, "zero": false}, "axis": null},
                "text": {"field": "sig"}
              }
            },
            {
              "data": {"name": "notes"},
              "transform": [{"filter": "datum.assay == 'CFU-GEMM' && indexof(datum.row, 'RANTES') >= 0"}],
              "mark": {"type": "text", "align": "left", "dx": 4, "dy": 1, "fontSize": 9.5, "fontStyle": "italic", "font": "Liberation Sans", "color": "#222222"},
              "encoding": {
                "x": {"datum": 0, "type": "quantitative", "scale": {"domain": [-10, 70], "nice": false, "zero": false}, "axis": null},
                "text": {"field": "note"}
              }
            },
            {
              "data": {"name": "notes"},
              "transform": [{"filter": "datum.assay == 'CFU-GEMM' && indexof(datum.row, 'MIP-1β') >= 0"}],
              "mark": {"type": "text", "align": "left", "dx": 4, "dy": -1, "fontSize": 9.5, "fontStyle": "italic", "font": "Liberation Sans", "color": "#222222"},
              "encoding": {
                "x": {"datum": 0, "type": "quantitative", "scale": {"domain": [-10, 70], "nice": false, "zero": false}, "axis": null},
                "text": {"field": "note"}
              }
            }
          ]
        }
      ]
    }
  ]
}
